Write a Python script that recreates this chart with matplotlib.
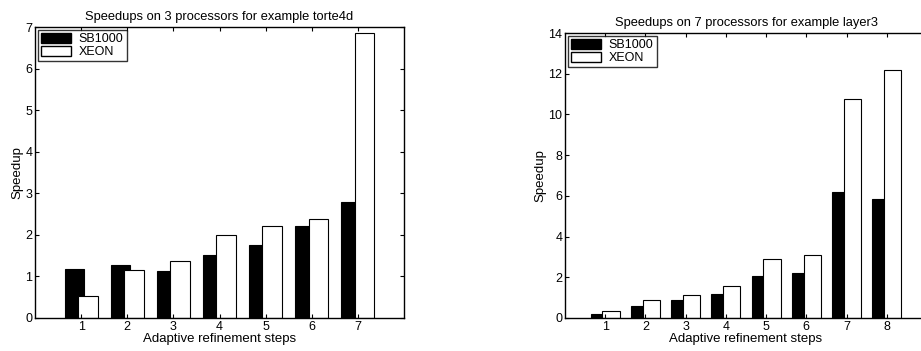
import numpy as np
import matplotlib.pyplot as plt
from matplotlib.patches import Patch

plt.rcParams['font.family'] = ['Liberation Sans', 'DejaVu Sans']

# left chart: torte4d, 3 processors
steps_a = [1, 2, 3, 4, 5, 6, 7]
sb1000_a = [1.17, 1.27, 1.14, 1.52, 1.76, 2.21, 2.79]
xeon_a = [0.52, 1.15, 1.37, 2.00, 2.21, 2.37, 6.86]

# right chart: layer3, 7 processors
steps_b = [1, 2, 3, 4, 5, 6, 7, 8]
sb1000_b = [0.22, 0.61, 0.87, 1.20, 2.05, 2.20, 6.18, 5.87]
xeon_b = [0.34, 0.90, 1.13, 1.59, 2.89, 3.08, 10.75, 12.2]

W, H = 921, 351
fig = plt.figure(figsize=(W / 100, H / 100), dpi=100)


def make_axes(left, right, top, bottom):
    return fig.add_axes([left / W, 1 - bottom / H, (right - left) / W, (bottom - top) / H])


def draw(ax, steps, sb, xe, title, ylim, yticks):
    x = np.array(steps, dtype=float)
    ax.bar(x - 0.145, sb, width=0.43, color='black', edgecolor='black', linewidth=0.8)
    ax.bar(x + 0.145, xe, width=0.43, color='white', edgecolor='black', linewidth=0.8)
    ax.set_xlim(0, len(steps) + 1)
    ax.set_ylim(*ylim)
    ax.set_xticks(steps)
    ax.set_yticks(yticks)
    ax.tick_params(direction='in', top=True, right=True, labelsize=9, length=3, width=0.8, pad=2)
    for s in ax.spines.values():
        s.set_linewidth(1.0)
    ax.set_title(title, fontsize=9.3, pad=5)
    ax.set_xlabel('Adaptive refinement steps', fontsize=9.5, labelpad=0)
    ax.set_ylabel('Speedup', fontsize=9.5, labelpad=1)
    handles = [Patch(facecolor='black', edgecolor='black', label='SB1000'),
               Patch(facecolor='white', edgecolor='black', label='XEON')]
    leg = ax.legend(handles=handles, loc='upper left', fontsize=9, frameon=True, fancybox=False,
                    borderaxespad=0.25, handlelength=2.4, handleheight=0.8, borderpad=0.25,
                    labelspacing=0.05, handletextpad=0.6)
    leg.get_frame().set_edgecolor('black')
    leg.get_frame().set_linewidth(1.0)


ax1 = make_axes(35, 404, 27, 318)
draw(ax1, steps_a, sb1000_a, xeon_a, 'Speedups on 3 processors for example torte4d', (0, 7), range(0, 8))

ax2 = make_axes(565, 927, 33, 318)
draw(ax2, steps_b, sb1000_b, xeon_b, 'Speedups on 7 processors for example layer3', (0, 14), range(0, 15, 2))

fig.savefig('out.png', dpi=100)
